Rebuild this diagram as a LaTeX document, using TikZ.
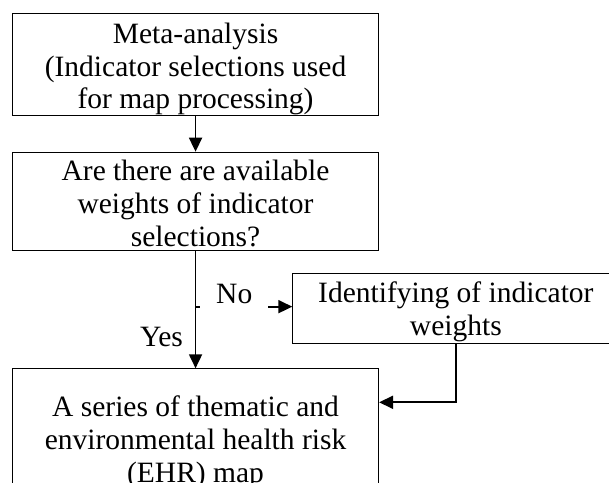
\documentclass[tikz,border=0pt]{standalone}
\usepackage{fontspec}
\setmainfont{Liberation Serif}
\usetikzlibrary{positioning}
\usetikzlibrary{arrows.meta}

\begin{document}
\begin{tikzpicture}[x=1pt, y=-1pt,
  box/.style={draw, line width=1.1pt, anchor=north west, text width=366pt, align=flush center,
    inner xsep=0pt, inner ysep=0pt, font=\fontsize{29.5}{32.8}\selectfont},
  conn/.style={line width=1.8pt, -{Triangle[length=14pt, width=13pt]}},
  lbl/.style={font=\fontsize{29.5}{32.8}\selectfont, inner sep=0pt}]

\useasboundingbox (0,0) rectangle (609,482);
\clip (0,0) rectangle (609,482);

% boxes
{
\node[box, text height=29.4pt, text depth=72.3pt] (meta) at (12,13.3)
{Meta-analysis\\(Indicator selections used\\for map processing)};
\node[box, text height=28.5pt, text depth=69.8pt] (avail) at (12,151.7)
{Are there are available\\weights of indicator\\selections?};
\node[box, text width=326pt, text height=28.4pt, text depth=41.6pt] (ident) at (292.3,273.3)
{Identifying of indicator\\weights};
\node[box, text height=47.7pt, text depth=100pt] (series) at (12,368.3)
{A series of thematic and\\environmental health risk\\(EHR) map};
}

% connectors
{
\draw[conn] (meta.south) -- (avail.north);
\draw[conn] (avail.south) -- (series.north)
  coordinate[pos=0.474] (split)
  node[lbl, pos=0.737, left=11.7pt] (yes) {Yes};
\draw[conn] (split) -- (split -| ident.west)
  node[lbl, pos=0.4, anchor=base, yshift=2.7pt, fill=white, inner xsep=16pt, inner ysep=4pt] (no) {No};
\draw[conn] (ident.south) |- ([yshift=-34pt]series.north east);
}

\end{tikzpicture}
\end{document}
